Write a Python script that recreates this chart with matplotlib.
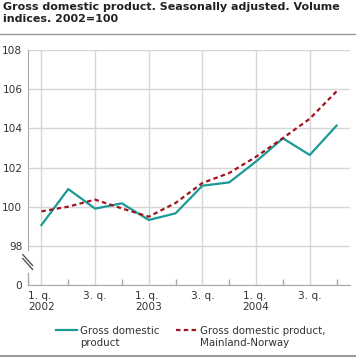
import matplotlib
matplotlib.use('Agg')
from matplotlib import pyplot as plt
from matplotlib.lines import Line2D

# Quarterly volume indices, 2002=100
quarters = ['1. q.\n2002', '', '3. q.', '', '1. q.\n2003', '', '3. q.', '',
            '1. q.\n2004', '', '3. q.', '']
gdp = [99.06, 100.9, 99.9, 100.17, 99.32, 99.66, 101.07, 101.24,
       102.31, 103.49, 102.64, 104.14]
gdp_mainland = [99.76, 100.0, 100.36, 99.91, 99.49, 100.19, 101.21, 101.72,
                102.55, 103.5, 104.49, 105.89]
y_ticks = [96, 98, 100, 102, 104, 106, 108]
y_labels = ['0', '98', '100', '102', '104', '106', '108']

teal = '#1a9a96'
red = '#a0141e'
grid_col = '#d6d6d6'
spine_col = '#a8a8a8'
text_col = '#333333'

fig = plt.figure(figsize=(3.56, 3.57), dpi=100)
ax = fig.add_axes([28 / 356, 1 - 285 / 357, 322 / 356, 235 / 357])

x = list(range(len(gdp)))
ax.plot(x, gdp, color=teal, lw=1.6, label='Gross domestic\nproduct')
ax.plot(x, gdp_mainland, color=red, lw=1.6, ls=(0, (2, 1.5)),
        label='Gross domestic product,\nMainland-Norway')

ax.set_xlim(-0.5, 11.5)
ax.set_ylim(96, 108)
ax.set_yticks(y_ticks)
ax.set_yticklabels(y_labels)
ax.set_xticks(x[::2])
ax.set_xticklabels(quarters[::2], ha='center', multialignment='left')
ax.set_xticks(x[1::2], minor=True)

ax.grid(True, which='major', color=grid_col, lw=1)
ax.set_axisbelow(True)
ax.tick_params(axis='both', which='major', length=0, labelsize=7.6,
               labelcolor=text_col)
ax.tick_params(axis='y', pad=4)
ax.tick_params(axis='x', pad=4)
ax.tick_params(axis='x', which='minor', direction='in', length=4,
               color=spine_col, width=1)

for s in ['top', 'right']:
    ax.spines[s].set_visible(False)
for s in ['left', 'bottom']:
    ax.spines[s].set_color(spine_col)
ax.spines['left'].set_bounds(97.8, 108)
# lower stub of the broken y axis and the break mark
ax.plot([0, 0], [96, 96.6], transform=ax.get_yaxis_transform(),
        color=spine_col, lw=1, clip_on=False)
for dy in [0, -0.2]:
    ax.plot([-0.016, 0.014], [97.55 + dy, 97.0 + dy],
            transform=ax.get_yaxis_transform(), color='#555555', lw=1,
            clip_on=False)

fig.text(3 / 356, 1 - 2 / 357,
         'Gross domestic product. Seasonally adjusted. Volume\nindices. 2002=100',
         ha='left', va='top', fontsize=8.0, fontweight='bold', color='#222222',
         linespacing=1.25)
fig.add_artist(Line2D([0, 1], [1 - 33.5 / 357] * 2, color='#9a9a9a', lw=1))
fig.add_artist(Line2D([0, 1], [1 - 355.5 / 357] * 2, color='#9a9a9a', lw=1.5))

leg = fig.legend(loc='center', bbox_to_anchor=(191 / 356, 1 - 337 / 357),
                 ncol=2, frameon=False, fontsize=7.4, handlelength=2.0,
                 handletextpad=0.35, columnspacing=1.6, labelcolor=text_col)
# put the legend keys level with the first text line
for h in leg.legend_handles:
    h.set_ydata([v + 5 for v in h.get_ydata()])

fig.savefig('out.png', dpi=100)
